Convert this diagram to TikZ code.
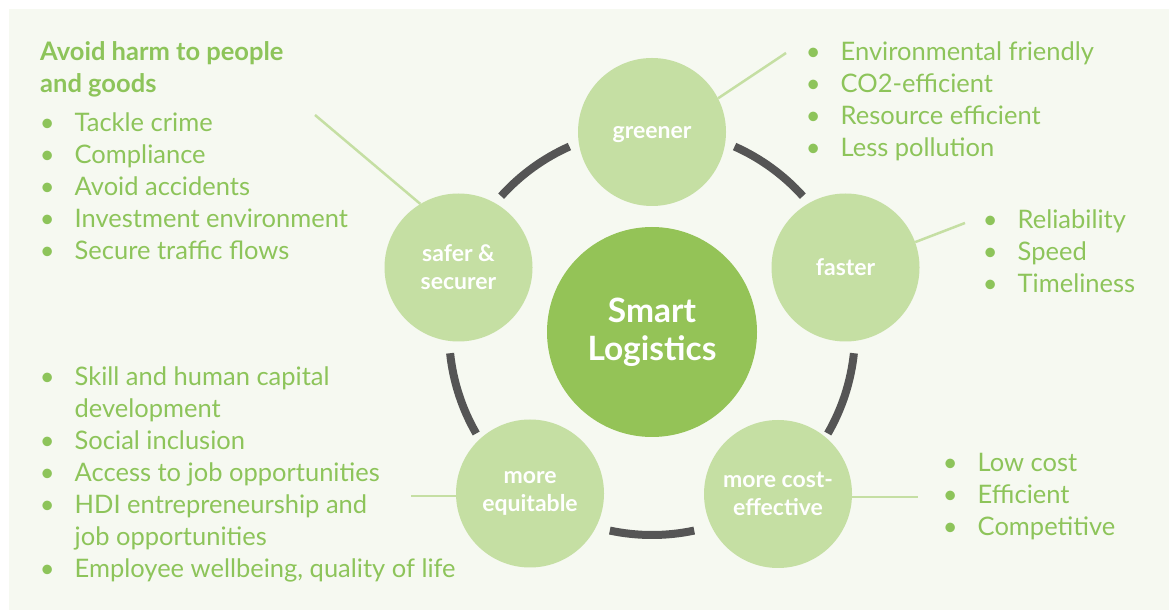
\documentclass[tikz,border=0pt]{standalone}
\usepackage{fontspec}
\setmainfont{Lato}
\usepackage{tikz}
\usetikzlibrary{shapes.geometric, arrows, calc, positioning}
\definecolor{leaf}{RGB}{148,195,87}
\definecolor{sprout}{RGB}{197,223,163}
\definecolor{ink}{RGB}{141,196,90}
\definecolor{paper}{RGB}{246,249,241}
\definecolor{rim}{RGB}{85,85,85}
\tikzstyle{hub} = [circle, fill=leaf, minimum size=210pt, inner sep=0pt, text=white, align=center, font=\bfseries\fontsize{33.5}{38}\selectfont]
\tikzstyle{goal} = [circle, fill=sprout, minimum size=148pt, inner sep=0pt, text=white, align=center, font=\bfseries\fontsize{23}{28}\selectfont]
\tikzstyle{ring} = [line width=8pt, draw=rim]
\tikzstyle{link} = [line width=2.5pt, draw=sprout]
\tikzstyle{list} = [anchor=north west, inner sep=0pt, align=left, text=ink, font=\fontsize{25.5}{32}\selectfont]
\newcommand{\bul}{\strut\makebox[14pt][c]{•}\hspace{20.5pt}}
\newcommand{\wrapline}{\strut\hspace*{34.5pt}}

\begin{document}
\begin{tikzpicture}[x=1pt, y=1pt]
	\useasboundingbox (0,0) rectangle (1169,610);
	\fill[paper] (9,0) rectangle (1169,601);
	\node (Smart) [hub] at (652,278) {Smart\\Logistics};
	\node (Greener) [goal, text depth=0pt] at (652,478) {greener};
	\node (Faster) [goal] at (845.5,342.5) {faster};
	\node (Cost) [goal] at (778,116) {more cost-\\effective};
	\node (Equitable) [goal] at (530,116.5) {more\\equitable};
	\node (Safer) [goal] at (458.5,342.5) {safer \&\\securer};
	\foreach \a in {66,-6,-78,-150,138}
		\draw[ring] ($(Smart)+(\a:203)$) arc[start angle=\a, delta angle=-24, radius=203];
	\coordinate (GreenerEnd) at (786,557);
	\coordinate (FasterEnd) at (965,387);
	\coordinate (SaferEnd) at (315,495);
	\coordinate (EquitableEnd) at (411,114);
	\coordinate (CostEnd) at (917.5,113);
	\draw[link] (Greener.27) -- (GreenerEnd);
	\draw[link] (Faster.20) -- (FasterEnd);
	\draw[link] (Safer.121) -- (SaferEnd);
	\draw[link] (EquitableEnd) -- (EquitableEnd -| Equitable.west);
	\draw[link] (Cost.east |- CostEnd) -- (CostEnd);
	\node (SaferHead) [list, font=\bfseries\fontsize{25.5}{32}\selectfont] at (40,572.4) {\strut Avoid harm to people\\\strut and goods};
	\node (SaferList) [list] at (40,501.4) {\bul Tackle crime\\\bul Compliance\\\bul Avoid accidents\\\bul Investment environment\\\bul Secure traffic flows};
	\node (EquitableList) [list] at (40,247.4) {\bul Skill and human capital\\\wrapline development\\\bul Social inclusion\\\bul Access to job opportunities\\\bul HDI entrepreneurship and\\\wrapline job opportunities\\\bul Employee wellbeing, quality of life};
	\node (GreenerList) [list] at (806,572.4) {\bul Environmental friendly\\\bul CO2-efficient\\\bul Resource efficient\\\bul Less pollution};
	\node (FasterList) [list] at (983,404.4) {\bul Reliability\\\bul Speed\\\bul Timeliness};
	\node (CostList) [list] at (943,160.9) {\bul Low cost\\\bul Efficient\\\bul Competitive};
\end{tikzpicture}
\end{document}
